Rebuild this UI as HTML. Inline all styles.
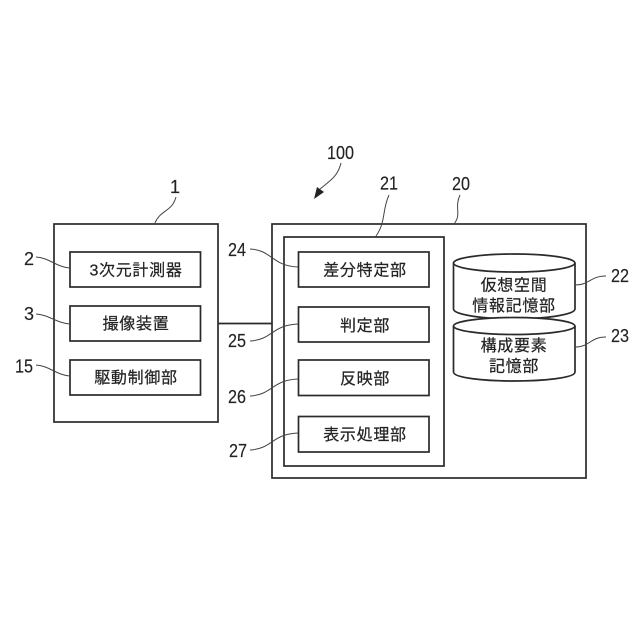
<!DOCTYPE html>
<html lang="ja"><head><meta charset="utf-8"><style>
html,body{margin:0;padding:0;background:#fff}
svg{display:block}
text{font-family:"Liberation Sans","Noto Sans CJK JP",sans-serif;fill:#222}
.j{font-size:16px;letter-spacing:.7px;text-anchor:middle;stroke:#222;stroke-width:.2}
.n{font-size:18px;stroke:#222;stroke-width:.15}
.b{fill:#fff;stroke:#2a2a2a;stroke-width:1.7}
.l{fill:none;stroke:#444;stroke-width:1}
</style></head><body>
<svg width="640" height="640" viewBox="0 0 640 640" xmlns="http://www.w3.org/2000/svg">
<rect width="640" height="640" fill="#fff"/>
<rect class="b" x="54" y="224" width="164" height="198"/>
<rect class="b" x="70" y="252" width="130.500" height="35"/>
<rect class="b" x="70" y="306" width="130.500" height="35"/>
<rect class="b" x="70" y="360" width="130.500" height="35"/>
<line x1="218" y1="323.500" x2="272" y2="323.500" stroke="#2a2a2a" stroke-width="1.700"/>
<rect class="b" x="272" y="224" width="314" height="254"/>
<rect class="b" x="284" y="237" width="160" height="229"/>
<rect class="b" x="298.500" y="252" width="130.500" height="35"/>
<rect class="b" x="298.500" y="307" width="130.500" height="35"/>
<rect class="b" x="298.500" y="360" width="130.500" height="35.500"/>
<rect class="b" x="298.500" y="416.500" width="130.500" height="35.500"/>
<path class="b" d="M453.500 263V309C453.500 315 485 319 514 319S575 315 575 309V263"/>
<ellipse class="b" cx="514.200" cy="263" rx="60.700" ry="9"/>
<path class="b" d="M453.500 326V372C453.500 378 485 381 514 381S575 378 575 372V326"/>
<ellipse class="b" cx="514.200" cy="326" rx="60.700" ry="8.500"/>
<text class="j" x="136" y="275.500">3次元計測器</text>
<text class="j" x="136" y="329">撮像装置</text>
<text class="j" x="136" y="383">駆動制御部</text>
<text class="j" x="365" y="275.500">差分特定部</text>
<text class="j" x="365" y="331">判定部</text>
<text class="j" x="365" y="384">反映部</text>
<text class="j" x="365" y="440">表示処理部</text>
<text class="j" x="514" y="290.500">仮想空間</text>
<text class="j" x="514" y="311">情報記憶部</text>
<text class="j" x="514" y="351">構成要素</text>
<text class="j" x="514" y="371.500">記憶部</text>
<text class="n" x="170" y="193">1</text>
<text class="n" x="24" y="265">2</text>
<text class="n" x="24" y="320">3</text>
<text class="n" x="15" y="372.500" textLength="18" lengthAdjust="spacingAndGlyphs">15</text>
<text class="n" x="228" y="256" textLength="18" lengthAdjust="spacingAndGlyphs">24</text>
<text class="n" x="228" y="347" textLength="18" lengthAdjust="spacingAndGlyphs">25</text>
<text class="n" x="228" y="403" textLength="18" lengthAdjust="spacingAndGlyphs">26</text>
<text class="n" x="229" y="457" textLength="18" lengthAdjust="spacingAndGlyphs">27</text>
<text class="n" x="327" y="159" textLength="27" lengthAdjust="spacingAndGlyphs">100</text>
<text class="n" x="380" y="189.500" textLength="18" lengthAdjust="spacingAndGlyphs">21</text>
<text class="n" x="452" y="190" textLength="18" lengthAdjust="spacingAndGlyphs">20</text>
<text class="n" x="611" y="282" textLength="18" lengthAdjust="spacingAndGlyphs">22</text>
<text class="n" x="611" y="342" textLength="18" lengthAdjust="spacingAndGlyphs">23</text>
<path class="l" d="M176 197C172 212 160 210 155 223"/>
<path class="l" d="M36 257C50 258 56 267 70 268"/>
<path class="l" d="M36 314C50 315 56 323 70 324"/>
<path class="l" d="M36 365C50 366 56 375 70 376"/>
<path class="l" d="M250 249C272 250 272 266 298 267"/>
<path class="l" d="M250 341C272 340 272 325 298 324"/>
<path class="l" d="M250 396C272 395 272 380 298 379"/>
<path class="l" d="M250 450C272 449 272 434 298 433"/>
<path class="l" d="M389 195C382 210 386 222 376 236"/>
<path class="l" d="M460 195C454 208 462 214 454 224"/>
<path class="l" d="M575 285C590 285 590 276 606 276"/>
<path class="l" d="M575 347C590 347 590 337 606 337"/>
<path class="l" d="M341 163C338 176 330 181 320 189"/>
<path d="M314 199L317 187L324 192Z" fill="#222"/>
</svg>
</body></html>
